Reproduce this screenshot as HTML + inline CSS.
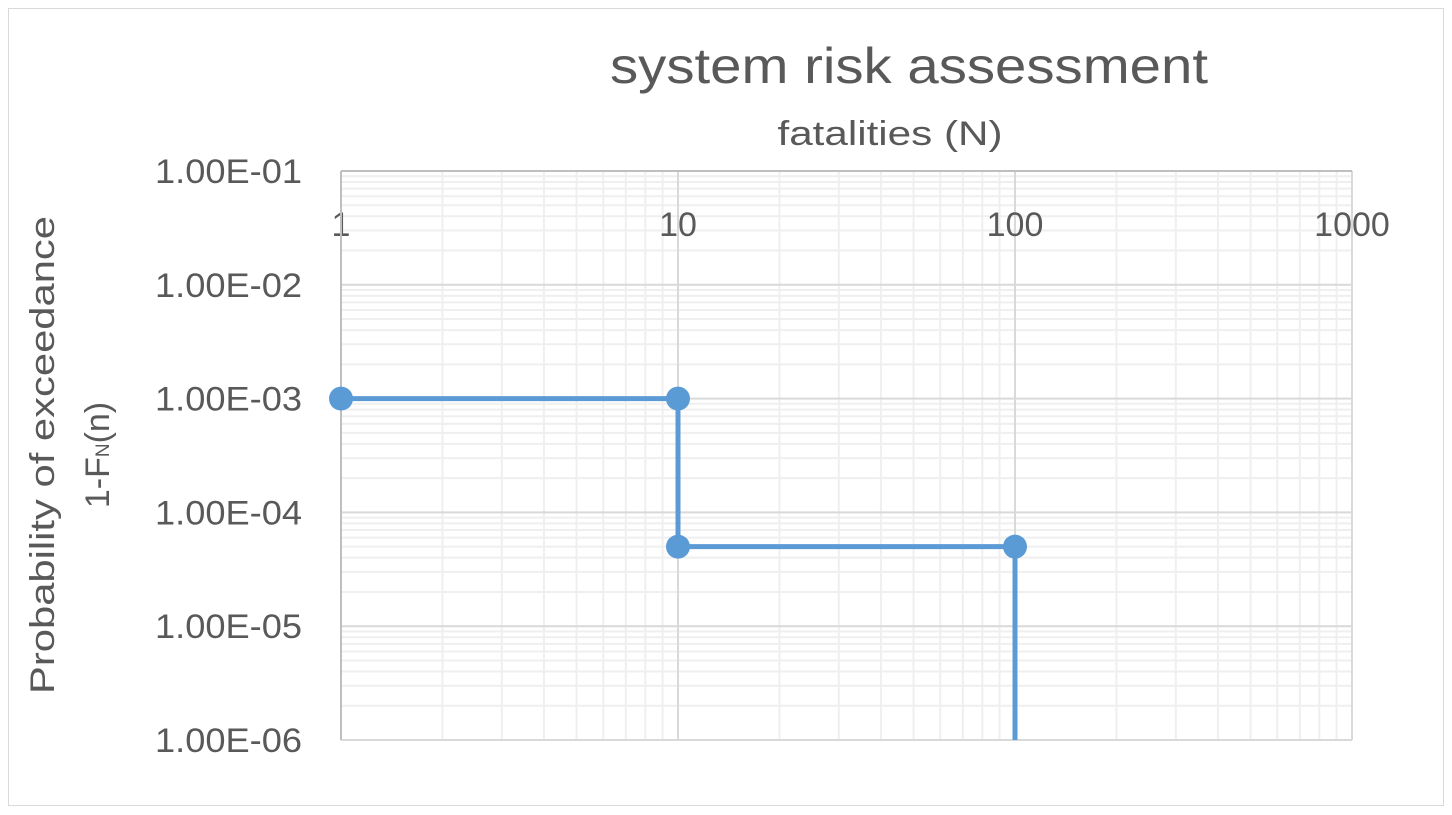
<!DOCTYPE html>
<html><head><meta charset="utf-8"><style>
html,body{margin:0;padding:0;background:#fff;}
svg{display:block;font-family:"Liberation Sans",sans-serif;}
</style></head><body>
<svg id="c" width="1452" height="815">
<rect x="8.5" y="8.5" width="1435" height="797" fill="#fff" stroke="#d9d9d9"/>
<text x="909" y="83" font-size="50" fill="#595959" text-anchor="middle" textLength="598" lengthAdjust="spacingAndGlyphs">system risk assessment</text>
<text x="890" y="145" font-size="34" fill="#595959" text-anchor="middle" textLength="225" lengthAdjust="spacingAndGlyphs">fatalities (N)</text>
<g transform="translate(54,455) rotate(-90)">
<text x="0" y="0" font-size="34" fill="#595959" text-anchor="middle" textLength="478" lengthAdjust="spacingAndGlyphs">Probability of exceedance</text>
<text x="0" y="55" font-size="34" fill="#595959" text-anchor="middle">1-F<tspan font-size="19">N</tspan>(n)</text>
</g>
<g id="grid"></g><g id="axes"></g><g id="series"></g>
</svg>
<script>
const xTicks=[1,10,100,1000];
const yTicks=[1e-1,1e-2,1e-3,1e-4,1e-5,1e-6];
const yTickLabels=["1.00E-01","1.00E-02","1.00E-03","1.00E-04","1.00E-05","1.00E-06"];
const seriesX=[1,10,10,100,100];
const seriesY=[1e-3,1e-3,5e-5,5e-5,1e-6];
const markerX=[1,10,10,100];
const markerY=[1e-3,1e-3,5e-5,5e-5];
const L=341,R=1352,T=171,B=740;
function sx(v){return L+(Math.log10(v)-0)/3*(R-L);}
function sy(v){return T+(-1-Math.log10(v))/5*(B-T);}
const NS="http://www.w3.org/2000/svg";
function mk(tag,attrs,parent){const e=document.createElementNS(NS,tag);for(const k in attrs)e.setAttribute(k,attrs[k]);parent.appendChild(e);return e;}
const grid=document.getElementById('grid'),axes=document.getElementById('axes'),ser=document.getElementById('series');
for(let d=0;d<3;d++)for(let m=2;m<=9;m++){const x=sx(m*Math.pow(10,d));
const l=mk('line',{x1:x,x2:x,y1:T,y2:B,stroke:'#efefef','stroke-width':2},grid);

}
for(let d=-6;d<-1;d++)for(let m=2;m<=9;m++){const y=sy(m*Math.pow(10,d));
const l=mk('line',{x1:L,x2:R,y1:y,y2:y,stroke:'#efefef','stroke-width':2},grid);

}
xTicks.forEach(v=>{const x=sx(v);
const l=mk('line',{x1:x,x2:x,y1:T,y2:B,stroke:'#d9d9d9','stroke-width':2},grid);


const t=mk('text',{x:x,y:236,'font-size':34,fill:'#595959','text-anchor':'middle'},axes);t.textContent=String(v);

});
yTicks.forEach((v,i)=>{const y=sy(v);
const l=mk('line',{x1:L,x2:R,y1:y,y2:y,stroke:'#d9d9d9','stroke-width':2},grid);


const t=mk('text',{x:302,y:y+12,'font-size':34,fill:'#595959','text-anchor':'end',textLength:147,lengthAdjust:'spacingAndGlyphs'},axes);t.textContent=yTickLabels[i];

});
const al=mk('line',{x1:L,x2:L,y1:T,y2:B,stroke:'#bfbfbf','stroke-width':2},axes);


const tl=mk('line',{x1:L,x2:R,y1:T,y2:T,stroke:'#bfbfbf','stroke-width':2},axes);


const pts=seriesX.map((x,i)=>sx(x)+','+sy(seriesY[i])).join(' ');
const pl=mk('polyline',{points:pts,fill:'none',stroke:'#5b9bd5','stroke-width':5,'stroke-linejoin':'round'},ser);


markerX.forEach((x,i)=>{const c=mk('circle',{cx:sx(x),cy:sy(markerY[i]),r:12,fill:'#5b9bd5'},ser);

});
</script>
</body></html>
